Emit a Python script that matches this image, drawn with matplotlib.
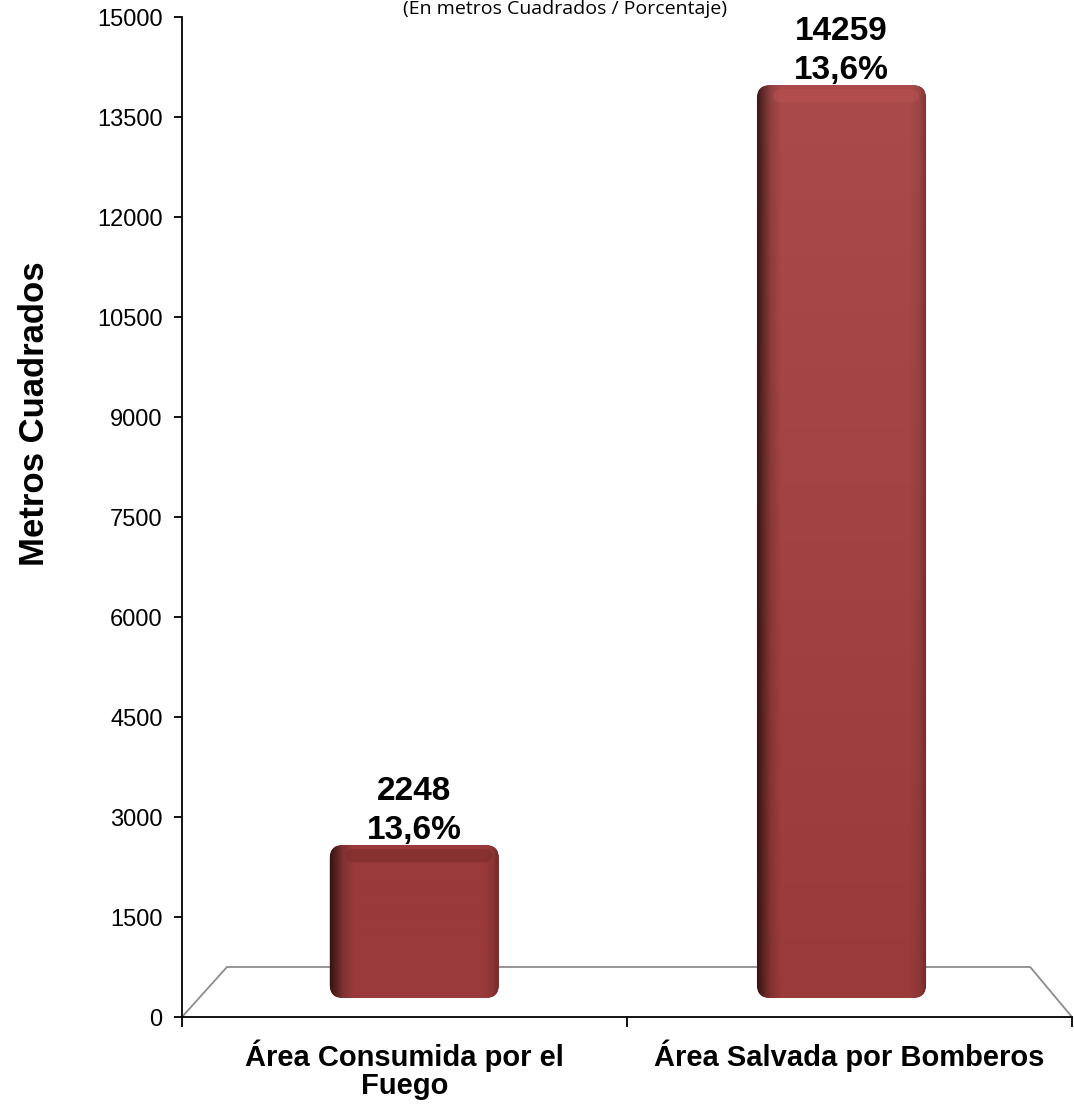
import numpy as np
import matplotlib
matplotlib.use("Agg")
import matplotlib.pyplot as plt
from matplotlib.patches import FancyBboxPatch

# datos
categorias = ["Área Consumida por el\nFuego", "Área Salvada por Bomberos"]
valores = [2248, 14259]
porcentajes = ["13,6%", "13,6%"]
y_ticks = [0, 1500, 3000, 4500, 6000, 7500, 9000, 10500, 12000, 13500, 15000]

plt.rcParams['font.family'] = ['Liberation Sans', 'DejaVu Sans']

fig = plt.figure(figsize=(10.74, 11.05), dpi=100)
ax = fig.add_axes([182 / 1074, (1105 - 1017) / 1105, 890 / 1074, 1000 / 1105])
ax.set_xlim(0, 2)
ax.set_ylim(0, 15000)

# piso 3D
piso_y = 750
base = 285
ax.plot([0, 0.101, 1.906, 2.0], [0, piso_y, piso_y, 0], color='#8c8c8c', lw=1.3,
        clip_on=False, zorder=1)

# perspectiva aproximada de la grafica 3D
esc, despl = 0.949, 446


def textura(alto_px, claro_arriba):
    # sombreado: borde izquierdo oscuro, borde derecho algo oscuro
    xs = np.linspace(0, 1, 170)
    fx = np.interp(xs, [0, 0.03, 0.08, 0.14, 0.9, 0.96, 1.0],
                   [0.35, 0.55, 0.85, 1.0, 1.0, 0.92, 0.72])
    ys = np.linspace(0, 1, max(int(alto_px), 2))
    c_abajo = np.array([154, 58, 58]) / 255
    c_arriba = np.array([170, 74, 74]) / 255 if claro_arriba else c_abajo
    col = c_arriba[None, :] * (1 - ys[:, None]) + c_abajo[None, :] * ys[:, None]
    img = col[:, None, :] * fx[None, :, None]
    return np.clip(img, 0, 1)


ancho = 0.38
offsets = [0.022, -0.018]
rad = 0.03
for i, v in enumerate(valores):
    xc = i + 0.5 + offsets[i]
    x0 = xc - ancho / 2
    top = v * esc + despl
    box = FancyBboxPatch((x0, base), ancho, top - base,
                         boxstyle=f"round,pad=0,rounding_size={rad}",
                         mutation_aspect=6700,
                         fc='#9c3c3c', ec='none', zorder=2)
    ax.add_patch(box)
    alto_px = (top - base) / 15
    im = ax.imshow(textura(alto_px, i == 1), aspect='auto',
                   extent=[x0, x0 + ancho, base, top], zorder=3, interpolation='bilinear')
    im.set_clip_path(box)
    # cara superior
    tapa = FancyBboxPatch((x0 + 0.035, top - 260), ancho - 0.05, 200,
                          boxstyle="round,pad=0,rounding_size=0.02",
                          mutation_aspect=6700,
                          fc='#b85252' if i == 1 else '#7a2a2a', ec='none',
                          alpha=0.55, zorder=4)
    ax.add_patch(tapa)
    tapa.set_clip_path(box)
    ax.text(xc, top - 10, f"{v}\n{porcentajes[i]}", ha='center', va='bottom',
            fontsize=24, fontweight='bold', linespacing=1.32, zorder=5)

ax.spines['top'].set_visible(False)
ax.spines['right'].set_visible(False)
ax.spines['left'].set_linewidth(1.3)
ax.spines['bottom'].set_linewidth(1.3)
ax.set_yticks(y_ticks)
ax.tick_params(axis='y', labelsize=17, length=6, width=1.3, pad=8)
ax.set_xticks([0, 1, 2])
ax.set_xticklabels(["", "", ""])
ax.tick_params(axis='x', length=7, width=1.3)
ax.set_xticks([0.5, 1.5], minor=True)
ax.set_xticklabels(categorias, minor=True, fontsize=21, fontweight='bold',
                   linespacing=1.0)
ax.tick_params(axis='x', which='minor', length=0, pad=16)

fig.text(35 / 1074, 1 - 414 / 1105, "Metros Cuadrados", rotation=90, ha='center',
         va='center', fontsize=25, fontweight='bold')

fig.text(565 / 1074, 1 - 9 / 1105, "(En metros Cuadrados / Porcentaje)", ha='center',
         va='center', fontsize=14, family=['Open Sans', 'DejaVu Sans'])

fig.savefig("out.png", dpi=100)
